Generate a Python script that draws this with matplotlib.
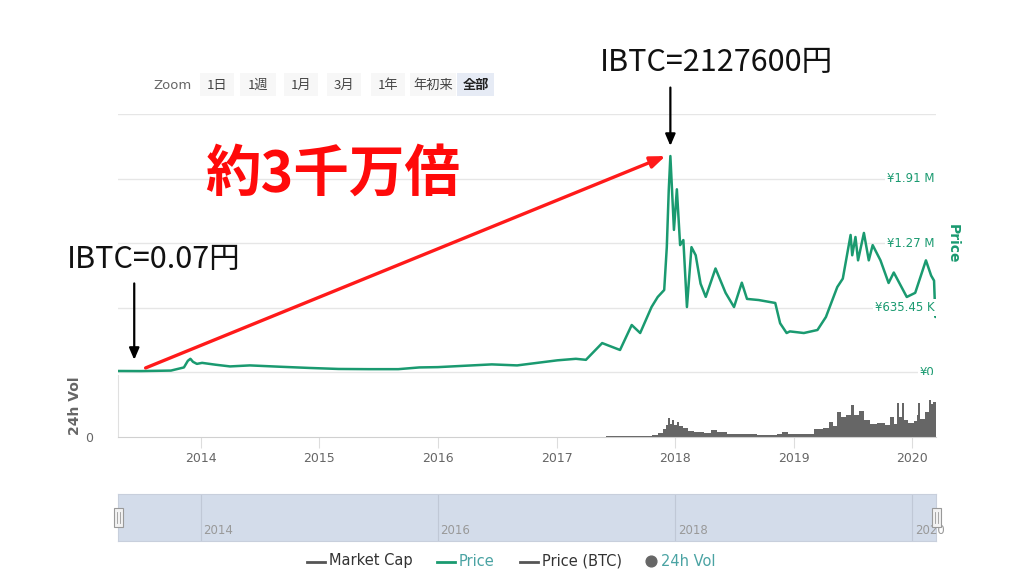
import numpy as np
import pandas as pd
import matplotlib
matplotlib.use("Agg")
import matplotlib.pyplot as plt
from matplotlib.patches import Rectangle

plt.rcParams['font.family'] = ['DejaVu Sans', 'Noto Sans CJK JP']

# ---- data (JPY) ----
price_dates = ['2013-04-21', '2013-07-01', '2013-10-01', '2013-11-10', '2013-11-22', '2013-11-30',
               '2013-12-08', '2013-12-20', '2014-01-05', '2014-02-15', '2014-04-01', '2014-06-01',
               '2014-09-01', '2014-12-01', '2015-03-01', '2015-06-01', '2015-09-01', '2015-11-05',
               '2016-01-01', '2016-06-15', '2016-09-01', '2017-01-03', '2017-03-01', '2017-04-01',
               '2017-05-21', '2017-06-10', '2017-07-15', '2017-08-20', '2017-09-15', '2017-10-20',
               '2017-11-08', '2017-11-28', '2017-12-06', '2017-12-12', '2017-12-17', '2017-12-22',
               '2017-12-28', '2018-01-06', '2018-01-16', '2018-01-26', '2018-02-06', '2018-02-20',
               '2018-03-05', '2018-03-20', '2018-04-05', '2018-05-05', '2018-06-05', '2018-07-01',
               '2018-07-25', '2018-08-10', '2018-09-15', '2018-11-05', '2018-11-20', '2018-12-10',
               '2018-12-20', '2019-02-01', '2019-03-15', '2019-04-10', '2019-05-15', '2019-06-01',
               '2019-06-25', '2019-06-30', '2019-07-10', '2019-07-18', '2019-08-05', '2019-08-20',
               '2019-09-01', '2019-09-25', '2019-10-20', '2019-11-05', '2019-12-15', '2020-01-10',
               '2020-02-12', '2020-02-28', '2020-03-08', '2020-03-12', '2020-03-14']
price_values = [10000, 9000, 14000, 45000, 110000, 130000,
                100000, 80000, 90000, 72000, 55000, 65000,
                52000, 40000, 30000, 28000, 28000, 45000,
                48000, 75000, 65000, 115000, 130000, 120000,
                285000, 260000, 217000, 463000, 384000, 640000,
                739000, 808000, 1230000, 1790000, 2127600, 1800000,
                1400000, 1800000, 1250000, 1300000, 640000, 1230000,
                1150000, 870000, 740000, 1020000, 780000, 640000,
                880000, 720000, 709000, 680000, 480000, 384000,
                400000, 384000, 414000, 542000, 837000, 920000,
                1350000, 1150000, 1330000, 1100000, 1370000, 1100000,
                1250000, 1100000, 877000, 980000, 739000, 780000,
                1100000, 950000, 900000, 542000, 570000]

vol_dates = ['2013-04-21', '2017-04-15', '2017-06-01', '2017-07-15', '2017-08-15', '2017-09-20',
             '2017-10-20', '2017-11-10', '2017-11-25', '2017-12-05', '2017-12-10', '2017-12-15',
             '2017-12-22', '2017-12-28', '2018-01-05', '2018-01-12', '2018-01-25', '2018-02-10',
             '2018-03-01', '2018-04-01', '2018-04-20', '2018-05-10', '2018-06-10', '2018-08-01',
             '2018-09-10', '2018-11-10', '2018-11-25', '2018-12-15', '2019-01-20', '2019-02-20',
             '2019-03-05', '2019-04-01', '2019-04-20', '2019-05-01', '2019-05-15', '2019-05-25',
             '2019-06-10', '2019-06-25', '2019-07-05', '2019-07-20', '2019-08-05', '2019-08-25',
             '2019-09-15', '2019-10-10', '2019-10-25', '2019-11-05', '2019-11-15', '2019-11-20',
             '2019-12-01', '2019-12-05', '2019-12-20', '2020-01-05', '2020-01-15', '2020-01-20',
             '2020-01-25', '2020-02-10', '2020-02-20', '2020-02-28', '2020-03-05', '2020-03-14']
vol_values = [0, 0.5, 1, 0.8, 1.5, 1,
              2, 4, 8, 12, 19, 13,
              17, 12, 15, 11, 9, 6,
              5, 4, 7, 5, 3, 3,
              2.5, 3, 5, 3.5, 3, 3.5,
              8, 9, 15, 11, 25, 20,
              22, 32, 22, 26, 17, 13,
              14, 12, 20, 13, 34, 20,
              34, 17, 14, 16, 22, 34,
              18, 25, 37, 33, 35, 35]

price_ticks = [0, 635450, 1270900, 1906350, 2541800]
price_tick_labels = ['¥0', '¥635.45 K', '¥1.27 M', '¥1.91 M', '']
year_ticks = ['2014', '2015', '2016', '2017', '2018', '2019', '2020']
nav_years = ['2014', '2016', '2018', '2020']
zoom_buttons = ['1日', '1週', '1月', '3月', '1年', '年初来', '全部']
legend_items = ['Market Cap', 'Price', 'Price (BTC)', '24h Vol']

GREEN = '#1a9a70'
GRAY = '#666666'
GRID = '#e6e6e6'
W, H = 1024, 569
JP = ['Noto Sans CJK JP', 'DejaVu Sans']


def px(x0, y0, x1, y1):
    return [x0 / W, 1 - y1 / H, (x1 - x0) / W, (y1 - y0) / H]


pdates = pd.to_datetime(price_dates)
vdates = pd.to_datetime(vol_dates)
xmin, xmax = pd.Timestamp('2013-04-21'), pd.Timestamp('2020-03-14')

fig = plt.figure(figsize=(W / 100, H / 100), dpi=100)

# ---- price panel ----
ax = fig.add_axes(px(118, 114, 936, 374))
ax.plot(pdates, price_values, color=GREEN, lw=1.8, zorder=3)
ax.set_xlim(xmin, xmax)
ax.set_ylim(-19700, 2541800)
for v in price_ticks:
    ax.axhline(v, color=GRID, lw=1, zorder=1)
for v, lab in zip(price_ticks, price_tick_labels):
    if lab:
        ax.text(0.998, v, lab, transform=ax.get_yaxis_transform(), ha='right', va='center',
                fontsize=8.5, color=GREEN, zorder=4,
                bbox=dict(boxstyle='square,pad=0.15', fc='white', ec='none'))
ax.set_xticks([])
ax.set_yticks([])
for s in ax.spines.values():
    s.set_visible(False)
ax.text(1.02, 0.5, 'Price', transform=ax.transAxes, rotation=270, ha='center', va='center',
        fontsize=10, color=GREEN, fontweight='bold')

# annotations pointing at the first point and the peak
ipk = int(np.argmax(price_values))
peak = (pdates[ipk], price_values[ipk])
start = (pd.Timestamp('2013-07-15'), 40000)
ax.annotate('', xy=(pdates[ipk] - pd.Timedelta(days=15), price_values[ipk]), xytext=start,
            xycoords='data', textcoords='data', annotation_clip=False,
            arrowprops=dict(arrowstyle='-|>,head_length=0.9,head_width=0.35', color='#ff1a1a',
                            lw=2.4, shrinkA=0, shrinkB=0))
ax.annotate('', xy=(pd.Timestamp('2013-06-10'), 120000), xytext=(0, 55), textcoords='offset points',
            annotation_clip=False,
            arrowprops=dict(arrowstyle='-|>,head_length=0.7,head_width=0.3', color='black',
                            lw=1.6, shrinkA=0, shrinkB=0))
ax.annotate('', xy=(peak[0], peak[1] + 100000), xytext=(0, 42), textcoords='offset points',
            annotation_clip=False,
            arrowprops=dict(arrowstyle='-|>,head_length=0.7,head_width=0.3', color='black',
                            lw=1.6, shrinkA=0, shrinkB=0))

# ---- volume panel ----
av = fig.add_axes(px(118, 375, 936, 437))
av.fill_between(vdates, vol_values, step='post', color='#666666', lw=0)
av.set_xlim(xmin, xmax)
av.set_ylim(0, 62)
av.set_yticks([0])
av.set_yticklabels(['0'], fontsize=9, color=GRAY)
av.tick_params(axis='y', length=0, pad=18)
av.set_xticks(pd.to_datetime([y + '-01-01' for y in year_ticks]))
av.set_xticklabels(year_ticks, fontsize=9, color=GRAY)
av.tick_params(axis='x', length=8, color='#dddddd', pad=3)
for k in ['top', 'right']:
    av.spines[k].set_visible(False)
av.spines['left'].set_color('#e0e0e0')
av.spines['bottom'].set_color('#d0d0d0')
av.set_ylabel('24h Vol', fontsize=10, color=GRAY, fontweight='bold', labelpad=2)

# ---- navigator ----
an = fig.add_axes(px(118, 494, 936, 541))
an.set_facecolor('#d3dcea')
an.set_xlim(xmin, xmax)
an.set_ylim(0, 1)
for y in nav_years:
    d = pd.Timestamp(y + '-01-01')
    an.axvline(d, color='#c0c8d6', lw=0.8)
    an.text(d + pd.Timedelta(days=8), 0.22, y, fontsize=8.5, color='#999999', va='center')
an.set_xticks([])
an.set_yticks([])
for s in an.spines.values():
    s.set_color('#c8cfdc')

# ---- overlay in pixel coords: zoom buttons, handles, legend, text ----
ov = fig.add_axes([0, 0, 1, 1])
ov.set_xlim(0, W)
ov.set_ylim(H, 0)
ov.axis('off')

ov.text(153, 85, 'Zoom', fontsize=9.5, color='#666666', va='center')
bx = [200, 240, 284, 327, 371, 410, 457]
bw = [34, 36, 34, 34, 34, 46, 37]
for x0, w, lab in zip(bx, bw, zoom_buttons):
    sel = lab == '全部'
    ov.add_patch(Rectangle((x0, 73), w, 23, fc='#e6ebf5' if sel else '#f7f7f7', ec='none'))
    ov.text(x0 + w / 2, 85, lab, fontsize=9.5, color='#222222' if sel else '#444444',
            ha='center', va='center', fontweight='bold' if sel else 'normal', family=JP)

for hx in [118, 936]:
    ov.add_patch(Rectangle((hx - 4.5, 508), 9, 19, fc='#f2f2f2', ec='#999999', lw=0.8))
    for dx in [-1.5, 1.5]:
        ov.plot([hx + dx, hx + dx], [512, 523], color='#999999', lw=0.6)

# legend along the bottom edge
lx = [307, 437, 520, 651]
lcol = ['#555555', GREEN, '#555555', '#555555']
tcol = ['#333333', '#4aa3a3', '#333333', '#4aa3a3']
for x0, c, tc, lab in zip(lx, lcol, tcol, legend_items):
    if lab == '24h Vol':
        ov.scatter([x0], [561], s=60, color='#666666')
        ov.text(x0 + 10, 561, lab, fontsize=10.5, color=tc, va='center')
    else:
        ov.plot([x0, x0 + 18], [562, 562], color=c, lw=2)
        ov.text(x0 + 22, 561, lab, fontsize=10.5, color=tc, va='center')

ov.text(205, 175, '約3千万倍', fontsize=40, color='#ff0a0a', fontweight='bold', va='center',
        family=JP)
ov.text(67, 259, 'IBTC=0.07円', fontsize=22, color='#111111', va='center', family=JP)
ov.text(600, 62, 'IBTC=2127600円', fontsize=22, color='#111111', va='center', family=JP)

fig.savefig('out.png', dpi=100)
